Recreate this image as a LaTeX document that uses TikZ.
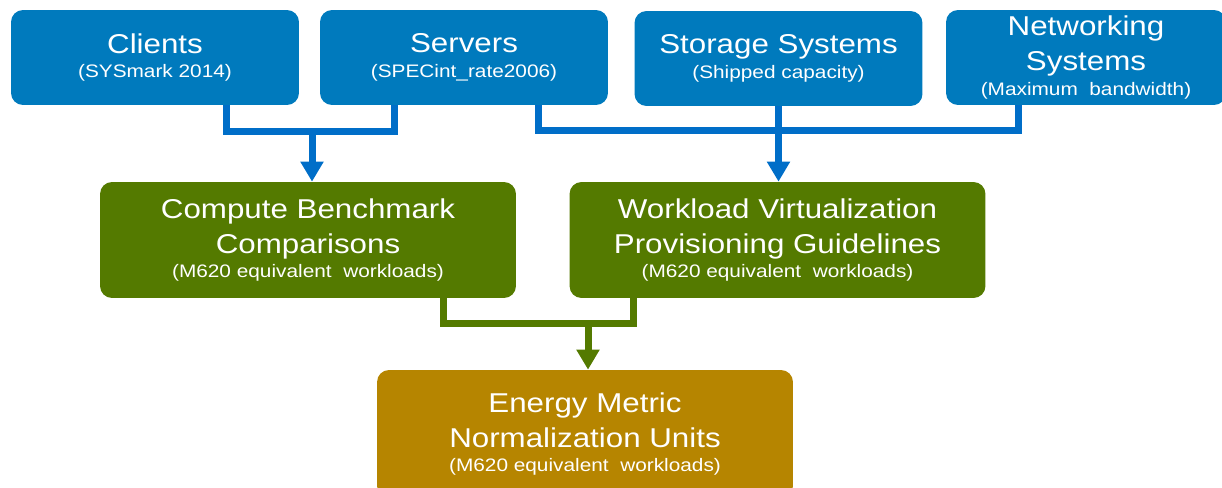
\documentclass[tikz,border=0pt]{standalone}
\usepackage{fontspec}
\setmainfont[FakeStretch=1.15]{Liberation Sans}
\usetikzlibrary{calc}
\usetikzlibrary{arrows.meta}

\definecolor{dellblue}{RGB}{0,122,189}
\definecolor{wireblue}{RGB}{0,110,200}
\definecolor{leafgreen}{RGB}{84,122,0}
\definecolor{ochre}{RGB}{182,133,0}

\newcommand{\subnote}[1]{\\[-6pt]{\fontsize{10.3}{13}\selectfont #1}}

\begin{document}
\begin{tikzpicture}[x=0.02cm, y=-0.02cm]% pixel grid
            \tikzstyle{box} = [fill={#1}, rounded corners=0.24cm, text=white, align=center, inner sep=0pt, font=\fontsize{15.5}{20}\selectfont]
            \tikzstyle{small box} = [box=dellblue, minimum width=5.76cm, minimum height=1.9cm]
            \tikzstyle{wide box} = [minimum width=8.32cm, minimum height=2.32cm]
            \tikzstyle{wire} = [line width=0.14cm]
            \tikzstyle{arrow end} = [-{Triangle[width=0.44cm, length=0.4cm]}]
            \useasboundingbox (0, 0) rectangle (1222, 487);
            % sources
            \node[small box] (clients) at (155, 57.5) {Clients\subnote{(SYSmark 2014)}};
            \node[small box] (servers) at (464, 57.5) {Servers\subnote{(SPECint\_rate2006)}};
            \node[small box] (storage) at (778.5, 58.5) {Storage Systems\subnote{(Shipped capacity)}};
            \node[small box, minimum width=5.6cm] (networking) at (1086, 57.5) {Networking\\Systems\subnote{(Maximum~ bandwidth)}};
            % middle
            \node[box=leafgreen, wide box] (compute) at (308, 240) {Compute Benchmark\\Comparisons\subnote{(M620 equivalent~ workloads)}};
            \node[box=leafgreen, wide box] (workload) at (777.5, 240) {Workload Virtualization\\Provisioning Guidelines\subnote{(M620 equivalent~ workloads)}};
            % result
            \node[box=ochre, wide box, minimum height=2.56cm] (energy) at (585, 434) {Energy Metric\\Normalization Units\subnote{(M620 equivalent~ workloads)}};
            % connectors
            \coordinate (left join) at (312, 131);
            \coordinate (right join) at ($(storage.south) + (0, 24)$);
            \coordinate (low join) at (588, 323);
            \draw[wire, wireblue] ($(clients.south) + (71, 0)$) |- (left join) -| ($(servers.south) + (-70, 0)$);
            \draw[wire, wireblue, arrow end] (left join) -- (compute.north -| left join);
            \draw[wire, wireblue] ($(servers.south) + (74, 0)$) |- (right join) -| ($(networking.south) + (-68, 0)$);
            \draw[wire, wireblue, arrow end] (storage.south) -- (workload.north -| storage.south);
            \draw[wire, leafgreen] ($(compute.south) + (135, 0)$) |- (low join) -| ($(workload.south) + (-144.5, 0)$);
            \draw[wire, leafgreen, arrow end] (low join) -- (energy.north -| low join);
        \end{tikzpicture}
\end{document}
